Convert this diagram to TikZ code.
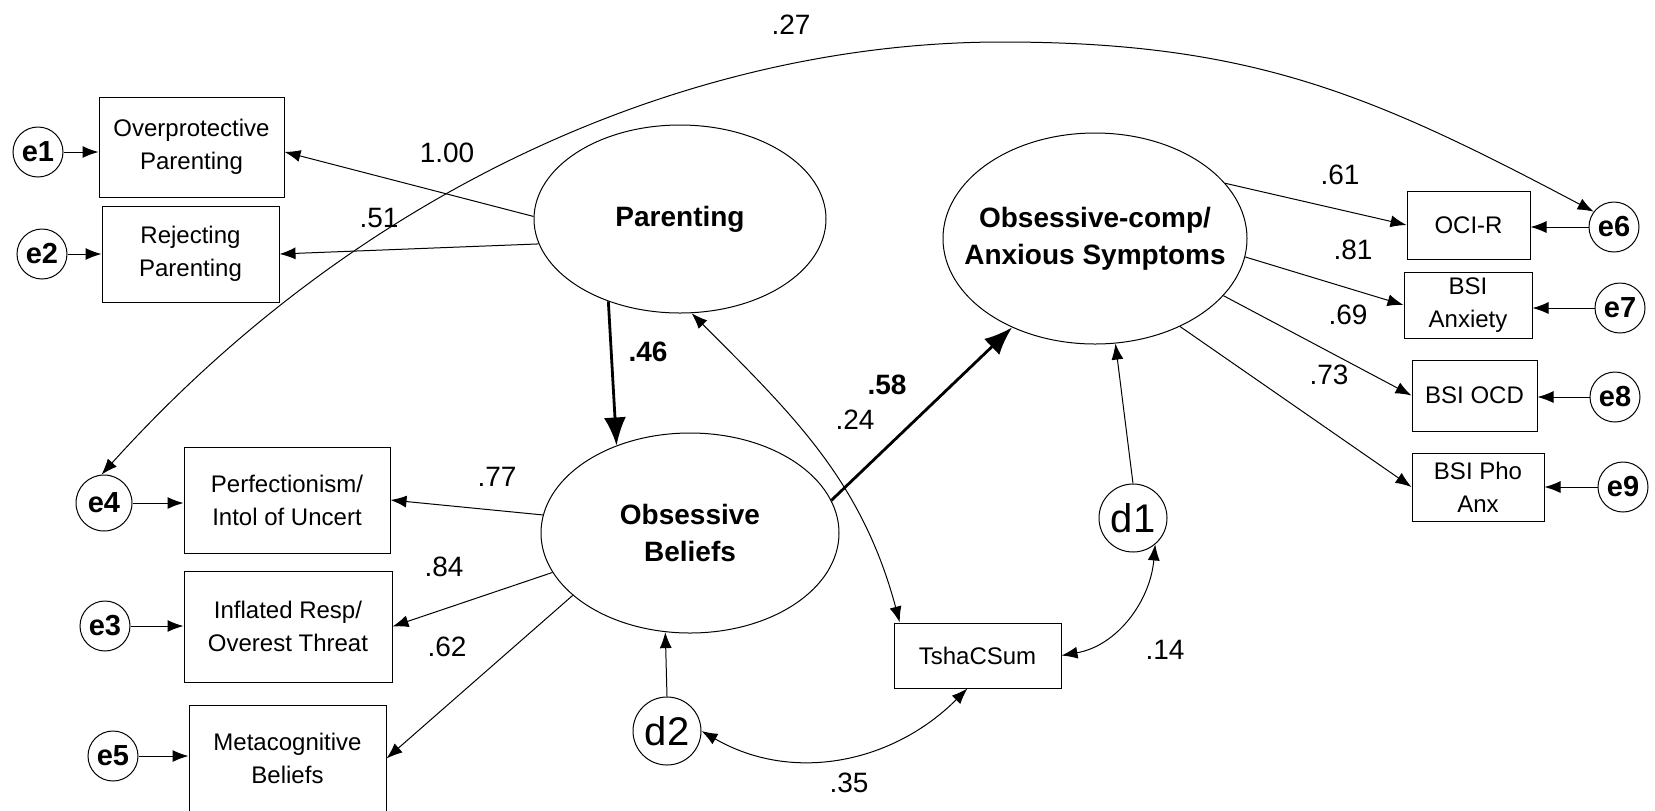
\documentclass[tikz,border=0pt]{standalone}
\usepackage{fontspec}
\setmainfont{Liberation Sans}
\usetikzlibrary{arrows.meta, shapes.geometric}

\begin{document}
\begin{tikzpicture}[x=0.5pt, y=-0.5pt, >={Latex[length=8pt,width=6pt]}, line width=0.5pt,
    obs/.style={draw, rectangle, inner sep=0pt, align=center, font=\fontsize{12}{16.5}\selectfont},
    lat/.style={draw, ellipse, inner ysep=0pt, inner xsep=-30pt, align=center, font=\fontsize{14}{18.5}\selectfont\bfseries},
    err/.style={draw, circle, inner sep=0pt, minimum size=25pt, font=\fontsize{14.5}{16}\selectfont\bfseries},
    dist/.style={draw, circle, inner sep=0pt, minimum size=34pt, font=\fontsize{20}{22}\selectfont},
    coef/.style={inner sep=0pt, font=\fontsize{14}{16}\selectfont},
    bcoef/.style={coef, font=\fontsize{14}{16}\selectfont\bfseries},
    big/.style={line width=1.4pt, -{Latex[length=14pt,width=11pt]}}]
  \useasboundingbox (0,0) rectangle (1655,810);

  \node[lat, minimum width=146pt, minimum height=94pt] (p) at (680,219) {Parenting};
  \node[lat, minimum width=149pt, minimum height=100pt] (ob) at (690,533) {Obsessive\\Beliefs};
  \node[lat, minimum width=152pt, minimum height=105.5pt] (oc) at (1095,238.5) {Obsessive-comp/\\Anxious Symptoms};

  \node[obs, minimum width=92.5pt, minimum height=50pt] (b1) at (191.5,147) {Overprotective\\Parenting};
  \node[obs, minimum width=88.5pt, minimum height=48pt] (b2) at (190.5,254) {Rejecting\\Parenting};
  \node[obs, minimum width=103pt, minimum height=53pt] (b4) at (287,500) {Perfectionism/\\Intol of Uncert};
  \node[obs, minimum width=104pt, minimum height=55.5pt] (b3) at (288,626.5) {Inflated Resp/\\Overest Threat};
  \node[obs, minimum width=98.5pt, minimum height=53.5pt] (b5) at (287.5,758.5) {Metacognitive\\Beliefs};
  \node[obs, minimum width=61.5pt, minimum height=34pt] (b6) at (1468.5,225) {OCI-R};
  \node[obs, minimum width=64pt, minimum height=33pt] (b7) at (1468,305) {BSI\\Anxiety};
  \node[obs, minimum width=62.5pt, minimum height=35.5pt] (b8) at (1474.5,395.5) {BSI OCD};
  \node[obs, minimum width=66pt, minimum height=34pt] (b9) at (1478,487) {BSI Pho\\Anx};
  \node[obs, minimum width=83.5pt, minimum height=32.5pt] (t) at (977.5,655.5) {TshaCSum};

  \node[err] (e1) at (38,152) {e1};
  \node[err] (e2) at (42,254) {e2};
  \node[err, minimum size=28pt] (e4) at (104,503) {e4};
  \node[err] (e3) at (105,626) {e3};
  \node[err] (e5) at (113,756) {e5};
  \node[err] (e6) at (1614,227) {e6};
  \node[err] (e7) at (1620,308) {e7};
  \node[err] (e8) at (1615,397) {e8};
  \node[err] (e9) at (1623,487) {e9};
  \node[dist] (d1) at (1133,518) {d1};
  \node[dist] (d2) at (667,731) {d2};

  \foreach \e/\b in {e1/b1, e2/b2, e4/b4, e3/b3, e5/b5}
    \draw[->] (\e.east) -- (\e.east -| \b.west);
  \foreach \e/\b in {e6/b6, e7/b7, e8/b8, e9/b9}
    \draw[->] (\e.west) -- (\e.west -| \b.east);

  \draw[->] (p.179) -- (b1.-3);
  \draw[->] (p.-170) -- (b2.east);
  \draw[->] (ob.173) -- (b4.east);
  \draw[->] (ob.-164) -- (b3.east);
  \draw[->] (ob.-152) -- (b5.east);
  \draw[->] (oc.23) -- (b6.west);
  \draw[->] (oc.-7) -- (b7.west);
  \draw[->] (oc.-24) -- (b8.west);
  \draw[->] (oc.-46) -- (b9.west);

  \draw[big] (p.-131) -- (ob.130);
  \draw[big] (ob.13) -- (oc.-133);
  \draw[->] (d1.north) -- (oc.-79);
  \draw[->] (d2.north) -- (ob.-104);

  \draw[<->] (p.-83) to[out=-45, in=105] (t.157);
  \draw[<->] (d1.-50) to[out=-95, in=10] (t.east);
  \draw[<->] (d2.east) to[out=-30, in=-135] (t.-107);
  \coordinate (top) at (1002,42);
  \draw[<->] (e4.95) .. controls +(268,-297) and +(-300,0) .. (top)
    .. controls +(250,0) and +(-221,-117) .. (e6.143);

  \node[coef] (c27) at (791,25) {.27};
  \node[coef] (c100) at (447,153) {1.00};
  \node[coef] (c51) at (379,218) {.51};
  \node[bcoef] (c46) at (648,352) {.46};
  \node[bcoef] (c58) at (887,385) {.58};
  \node[coef] (c24) at (855,420) {.24};
  \node[coef] (c61) at (1340,175) {.61};
  \node[coef] (c81) at (1353,250) {.81};
  \node[coef] (c69) at (1348,315) {.69};
  \node[coef] (c73) at (1329,375) {.73};
  \node[coef] (c77) at (497,477) {.77};
  \node[coef] (c84) at (444,567) {.84};
  \node[coef] (c62) at (447,647) {.62};
  \node[coef] (c14) at (1165,650) {.14};
  \node[coef] (c35) at (849,783) {.35};
\end{tikzpicture}
\end{document}
